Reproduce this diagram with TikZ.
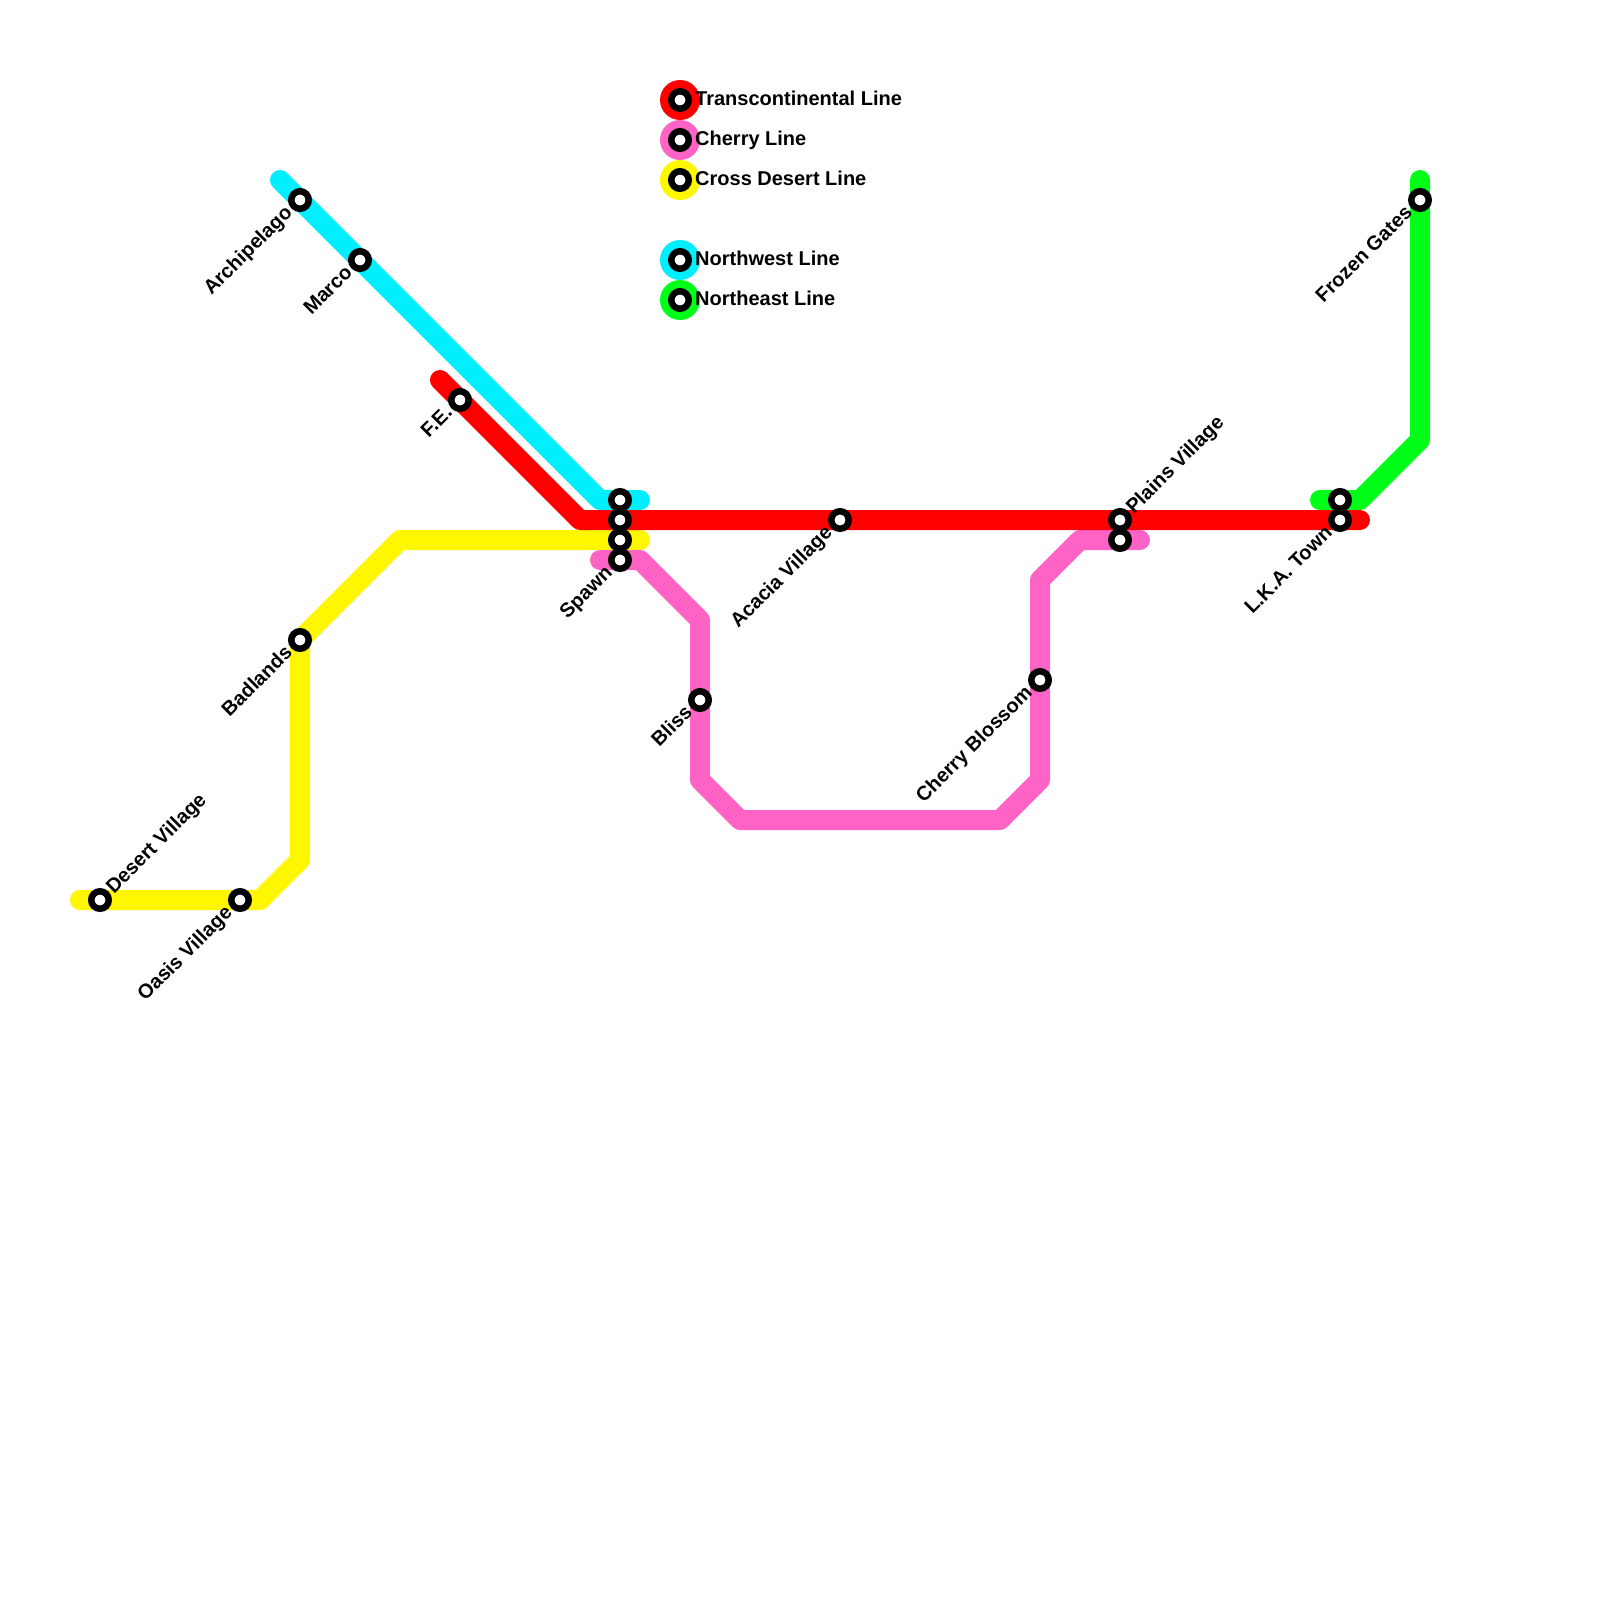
\documentclass[tikz,border=0pt]{standalone}
\usepackage{fontspec}
\setmainfont{Liberation Sans}
\definecolor{lred}{HTML}{FF0000}
\definecolor{lpink}{HTML}{FF63C6}
\definecolor{lyellow}{HTML}{FFF700}
\definecolor{lcyan}{HTML}{00EFFF}
\definecolor{lgreen}{HTML}{00FF18}
\begin{document}
\begin{tikzpicture}[x=1pt,y=-1pt,
  metro/.style={line width=20pt,line cap=round,line join=round},
  stn/.style={circle,draw=black,fill=white,line width=6.5pt,minimum size=17.5pt,inner sep=0pt},
  keydot/.style={circle,minimum size=40pt,inner sep=0pt},
  lab/.style={font=\bfseries\fontsize{20}{20}\selectfont,inner sep=0pt,text=black},
  sw/.style={lab,rotate=45,anchor=mid east},
  ne/.style={lab,rotate=45,anchor=mid west},
  keylab/.style={lab,anchor=base west}]
\useasboundingbox (0,0) rectangle (1600,1600);
\fill[white] (0,0) rectangle (1600,1600);
% stations
\foreach \n/\x/\y in {arch/300/200,marco/360/260,fe/460/400,sa/620/500,sb/620/520,sc/620/540,spawn/620/560,
  acacia/840/520,plainsa/1120/520,plainsb/1120/540,blossom/1040/680,bliss/700/700,lkaa/1340/500,lkab/1340/520,
  frozen/1420/200,badlands/300/640,oasis/240/900,desert/100/900}
  \coordinate (\n) at (\x,\y);
% legend positions
\foreach \n/\y in {ka/100,kb/140,kc/180,kd/260,ke/300}
  \coordinate (\n) at (680,\y);
% line ends and bends
\foreach \n/\x/\y in {c0/280/180,c1/600/500,c2/640/500,
  r0/440/380,r1/580/520,r2/1360/520,
  y0/80/900,y1/260/900,y2/300/860,y3/300/640,y4/400/540,y5/640/540,
  p0/600/560,p1/640/560,p2/700/620,p3/700/780,p4/740/820,p5/1000/820,p6/1040/780,p7/1040/580,p8/1080/540,p9/1140/540,
  g0/1320/500,g1/1360/500,g2/1420/440,g3/1420/180}
  \coordinate (\n) at (\x,\y);
% lines
\draw[metro,lgreen] (g0) -- (g1) -- (g2) -- (g3);
\draw[metro,lcyan] (c0) -- (c1) -- (c2);
\draw[metro,lyellow] (y0) -- (y1) -- (y2) -- (y3) -- (y4) -- (y5);
\draw[metro,lpink] (p0) -- (p1) -- (p2) -- (p3) -- (p4) -- (p5) -- (p6) -- (p7) -- (p8) -- (p9);
\draw[metro,lred] (r0) -- (r1) -- (r2);
% legend dots
\node[keydot,fill=lred] (kdota) at (ka) {};
\node[keydot,fill=lpink] (kdotb) at (kb) {};
\node[keydot,fill=lyellow] (kdotc) at (kc) {};
\node[keydot,fill=lcyan] (kdotd) at (kd) {};
\node[keydot,fill=lgreen] (kdote) at (ke) {};
\foreach \n in {ka,kb,kc,kd,ke} \node[stn] (s\n) at (\n) {};
% stations
\foreach \n in {arch,marco,fe,sa,sb,sc,spawn,acacia,plainsa,plainsb,blossom,bliss,lkaa,lkab,frozen,badlands,oasis,desert}
  \node[stn] (s\n) at (\n) {};
% labels
\node[keylab] (ta) at (695,105.5) {Transcontinental Line};
\node[keylab] (tb) at (695,145.5) {Cherry Line};
\node[keylab] (tc) at (695,185) {Cross Desert Line};
\node[keylab] (td) at (695,265) {Northwest Line};
\node[keylab] (te) at (695,305) {Northeast Line};
\node[sw] (larch) at ([shift={(-8.5,12)}]arch) {Archipelago};
\node[sw] (lmarco) at ([shift={(-8.5,12)}]marco) {Marco};
\node[sw] (lfe) at ([shift={(-8.5,12)}]fe) {F.E.};
\node[sw] (lspawn) at ([shift={(-8.5,12)}]spawn) {Spawn};
\node[sw] (lacacia) at ([shift={(-8.5,12)}]acacia) {Acacia Village};
\node[sw] (lblossom) at ([shift={(-8.5,12)}]blossom) {Cherry Blossom};
\node[sw] (lbliss) at ([shift={(-8.5,12)}]bliss) {Bliss};
\node[sw] (llka) at ([shift={(-8.5,12)}]lkab) {L.K.A. Town};
\node[sw] (lfrozen) at ([shift={(-8.5,12)}]frozen) {Frozen Gates};
\node[sw] (lbadlands) at ([shift={(-8.5,12)}]badlands) {Badlands};
\node[sw] (loasis) at ([shift={(-8.5,12)}]oasis) {Oasis Village};
\node[ne] (ldesert) at ([shift={(12,-7)}]desert) {Desert Village};
\node[ne] (lplains) at ([shift={(12,-7)}]plainsa) {Plains Village};
\end{tikzpicture}
\end{document}
